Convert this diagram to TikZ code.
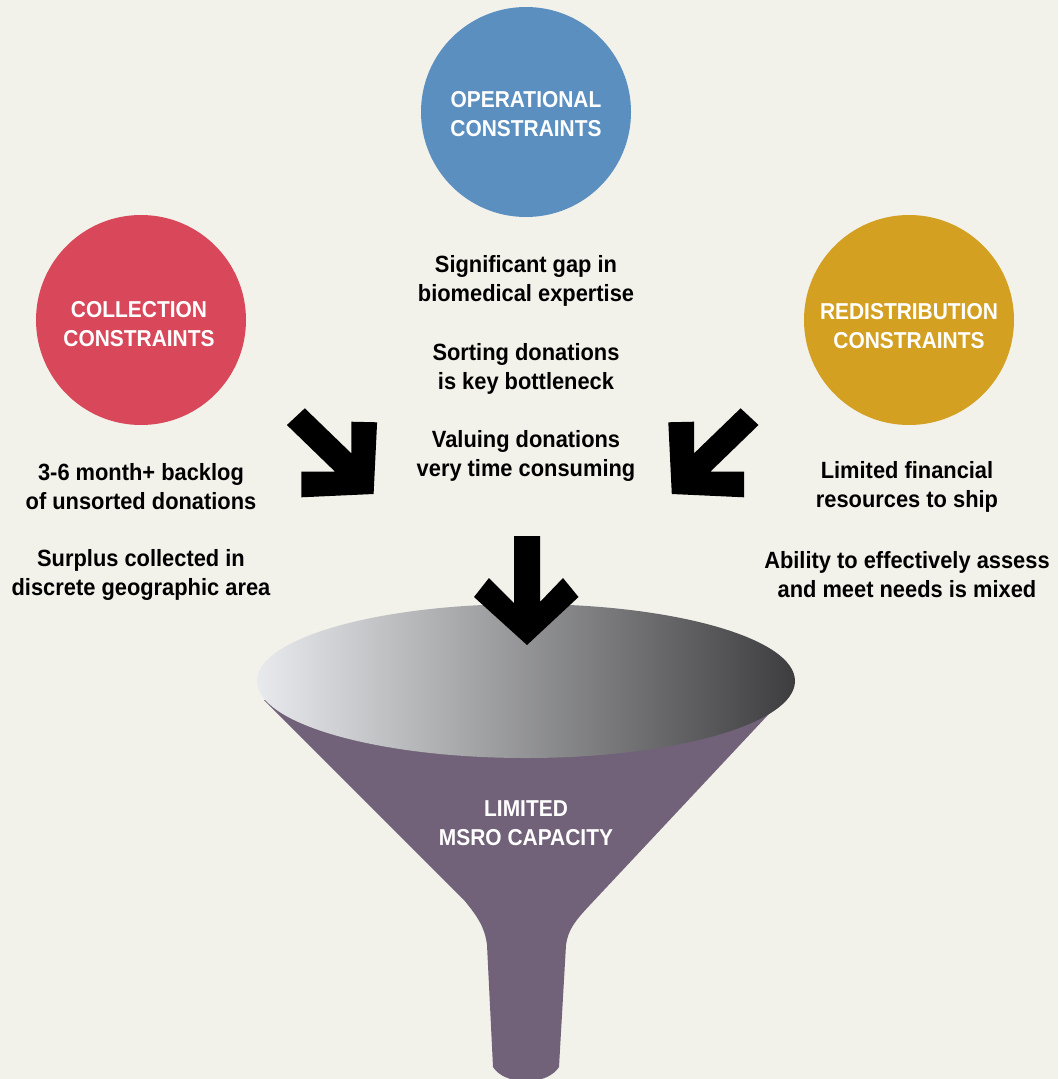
\documentclass[tikz,border=0pt]{standalone}
\usepackage{fontspec}
\usepackage{xcolor}
\usetikzlibrary{positioning}
\newfontfamily\notefont{Liberation Sans}[FakeStretch=0.93]
\newfontfamily\capsfont{Liberation Sans}[FakeStretch=0.91]
\definecolor{bgcol}{HTML}{F2F1EA}
\definecolor{opblue}{HTML}{5A8FC0}
\definecolor{colred}{HTML}{D8475A}
\definecolor{redgold}{HTML}{D4A022}
\definecolor{funnelcol}{HTML}{716279}
\definecolor{rimlight}{HTML}{E9EAED}
\definecolor{rimdark}{HTML}{3D3D3F}
\tikzset{
  bubble/.style={circle, minimum size=210pt, inner sep=0pt},
  note/.style={align=center, inner sep=0pt, font=\notefont\bfseries\fontsize{23.5}{29}\selectfont},
  capnote/.style={align=center, inner sep=0pt, text=white, font=\capsfont\bfseries\fontsize{23}{29}\selectfont}
}

\begin{document}
\begin{tikzpicture}[x=1pt, y=-1pt, node distance=88pt, on grid]
	\useasboundingbox (0,0) rectangle (1058,1079);
	\fill[bgcol] (0,0) rectangle (1058,1079);

	\node[bubble, fill=opblue] (op) at (526,112) {};
	\node[bubble, fill=colred] (col) at (141,320) {};
	\node[bubble, fill=redgold] (red) at (909,320) {};
	\node[capnote] (optxt) at ([yshift=-2pt]op.center) {OPERATIONAL\\CONSTRAINTS};
	\node[capnote] (coltxt) at ([xshift=-2pt, yshift=-4.5pt]col.center) {COLLECTION\\CONSTRAINTS};
	\node[capnote] (redtxt) at ([yshift=-6.5pt]red.center) {REDISTRIBUTION\\CONSTRAINTS};

	\node[note, below=169pt of op] (op1) {Significant gap in\\biomedical expertise};
	\node[note, below=of op1] (op2) {Sorting donations\\is key bottleneck};
	\node[note, below=87pt of op2] (op3) {Valuing donations\\very time consuming};
	\node[note, below=166.5pt of col] (col1) {3-6 month+ backlog\\of unsorted donations};
	\node[note, below=of col1] (col2) {Surplus collected in\\discrete geographic area};
	\node[note, below=166.5pt of red, xshift=-2pt] (red1) {Limited financial\\resources to ship};
	\node[note, below=of red1] (red2) {Ability to effectively assess\\and meet needs is mixed};

	\fill (304.8,408.3) -- (351.3,453.3) -- (351.3,421.7) -- (377.1,422.3) -- (373.6,494) -- (301.3,497.3) -- (301.3,471.7) -- (335.1,471.7) -- (286.9,425) -- cycle;
	\fill (740.6,408.3) -- (694.1,453.3) -- (694.1,421.7) -- (668.3,422.3) -- (671.8,494) -- (744.1,497.3) -- (744.1,471.7) -- (710.3,471.7) -- (758.5,425) -- cycle;

	\fill[funnelcol] (264,700) -- (464,900) .. controls (478,917) and (485,928) .. (487,945) -- (493,1067) .. controls (505,1086) and (547,1086) .. (559,1067) -- (566,945) .. controls (568,930) and (575,921) .. (589,906) -- (782,700) -- cycle;
	\shade[left color=rimlight, right color=rimdark] (526,681) ellipse [x radius=269, y radius=77];
	\fill (514,536) -- (540,536) -- (540,602) -- (563,578) -- (578.5,597) -- (527,645) -- (474,597) -- (489,578) -- (514,603) -- cycle;

	\node[capnote] (cap) at (526,823) {LIMITED\\MSRO CAPACITY};
\end{tikzpicture}
\end{document}
